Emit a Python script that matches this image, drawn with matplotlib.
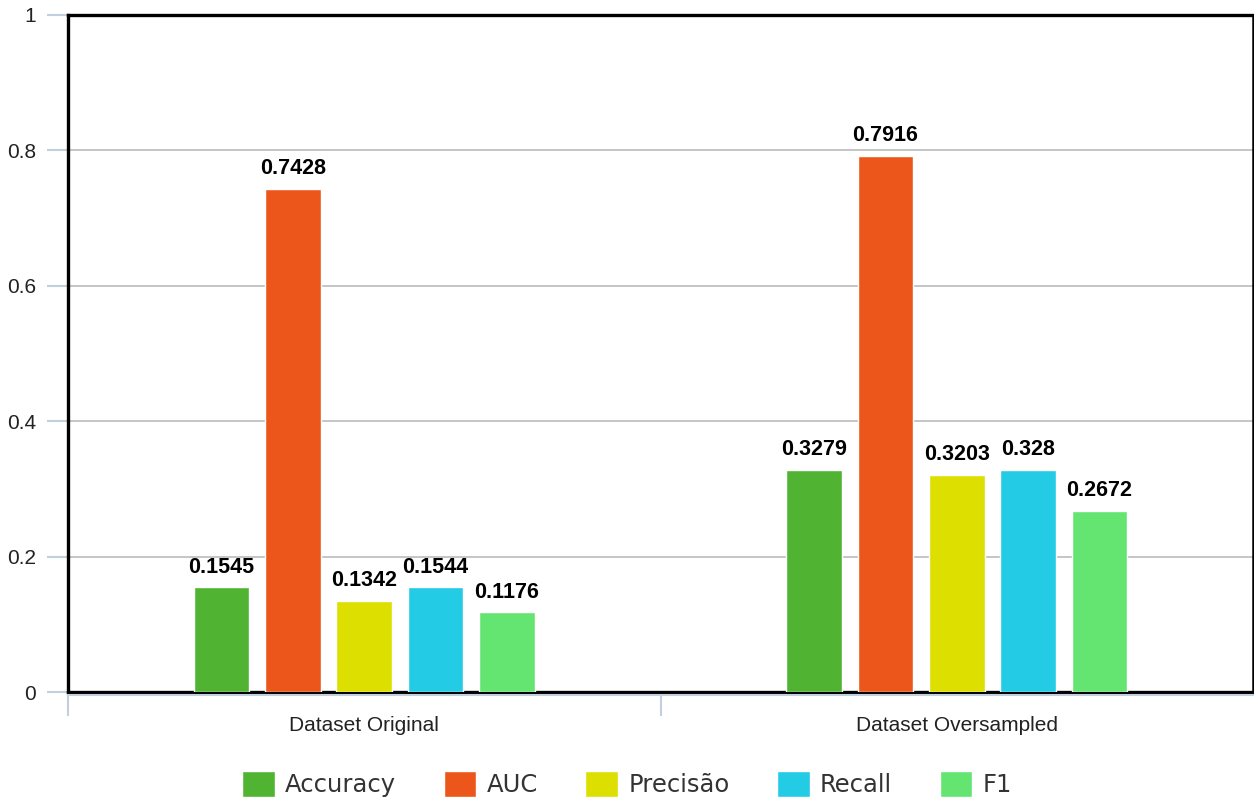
import matplotlib
matplotlib.use("Agg")
import matplotlib.pyplot as plt
import numpy as np
from matplotlib.transforms import ScaledTranslation

categories = ["Dataset Original", "Dataset Oversampled"]
series_names = ["Accuracy", "AUC", "Precisão", "Recall", "F1"]
accuracy = [0.1545, 0.3279]
auc = [0.7428, 0.7916]
precisao = [0.1342, 0.3203]
recall = [0.1544, 0.328]
f1 = [0.1176, 0.2672]
series_values = [accuracy, auc, precisao, recall, f1]
value_labels = [["0.1545", "0.3279"], ["0.7428", "0.7916"], ["0.1342", "0.3203"],
                ["0.1544", "0.328"], ["0.1176", "0.2672"]]
colors = ["#50B432", "#ED561B", "#DDDF00", "#24CBE5", "#64E572"]
yticks = [0, 0.2, 0.4, 0.6, 0.8, 1]
ytick_labels = ["0", "0.2", "0.4", "0.6", "0.8", "1"]

fig = plt.figure(figsize=(12.54, 8.01), dpi=100)
ax = fig.add_axes([68/1254, 1 - 692/801, (1253 - 68)/1254, (692 - 15)/801])

x = np.arange(len(categories))
bw = 0.094
pitch = 0.1204
handles = []
for i, (name, vals, col) in enumerate(zip(series_names, series_values, colors)):
    pos = x + (i - 2) * pitch
    b = ax.bar(pos, vals, width=bw, color=col, edgecolor="white", linewidth=1,
               label=name, zorder=3)
    handles.append(b)
    for px, v, lab in zip(pos, vals, value_labels[i]):
        ax.annotate(lab, (px, v), xytext=(0, 7), textcoords="offset points",
                    ha="center", va="bottom", fontsize=15.5, fontweight="bold",
                    family="Liberation Sans", color="black", zorder=4)

ax.set_xlim(-0.5, 1.5)
ax.set_ylim(0, 1)
ax.set_yticks(yticks)
ax.set_yticklabels(ytick_labels, family="Liberation Sans", fontsize=15, color="#222222")
ax.yaxis.grid(True, color="#C0C0C0", linewidth=1.3, zorder=0)
ax.set_axisbelow(True)
ax.tick_params(axis="y", length=15, width=1.5, color="#C0D0E0", pad=8)

# category boundary ticks (major) and centred labels (minor)
ax.set_xticks([-0.5, 0.5])
ax.set_xticklabels(["", ""])
ax.tick_params(axis="x", which="major", length=17, width=1.5, color="#C0D0E0")
ax.set_xticks(x, minor=True)
ax.set_xticklabels(categories, minor=True, family="Liberation Sans", fontsize=15,
                   color="#222222")
ax.tick_params(axis="x", which="minor", length=0, pad=17)

for side in ["left", "top", "right", "bottom"]:
    ax.spines[side].set_color("black")
    ax.spines[side].set_linewidth(2.4)
ax.spines["right"].set_linewidth(1.8)

# light axis line under the bottom frame
ax.plot([0, 1], [0, 0], transform=ax.transAxes + ScaledTranslation(0, -2/72, fig.dpi_scale_trans),
        color="#C0D0E0", linewidth=1.5, clip_on=False, zorder=5)

leg = fig.legend(handles=handles, labels=series_names, loc="center",
                 bbox_to_anchor=(0.5, 0.021), ncol=5, frameon=False,
                 prop={"family": "DejaVu Sans", "size": 17.5},
                 handlelength=1.35, handleheight=1.3, handletextpad=0.42,
                 columnspacing=1.95, borderaxespad=0)
for t in leg.get_texts():
    t.set_color("#333333")

fig.savefig("out.png", dpi=100)
